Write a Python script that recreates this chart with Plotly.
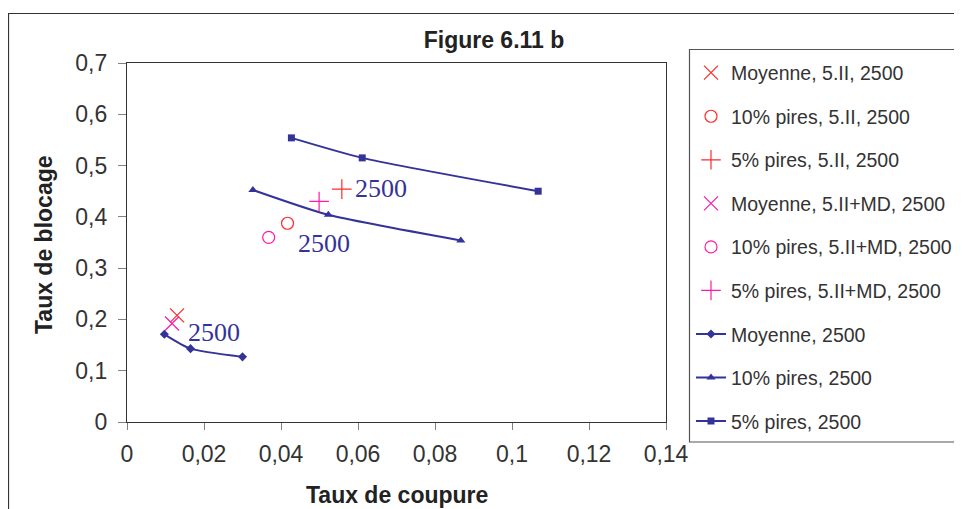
import plotly.graph_objects as go

# ---- data ----
moy_x = [0.0097, 0.0165, 0.0300]
moy_y = [0.171, 0.143, 0.127]
p10_x = [0.0327, 0.0523, 0.0867]
p10_y = [0.4525, 0.404, 0.354]
p5_x = [0.0427, 0.0611, 0.1068]
p5_y = [0.554, 0.515, 0.450]

moy_5II = (0.0130, 0.208)
p10_5II = (0.0417, 0.3875)
p5_5II = (0.0558, 0.454)
moy_5IIMD = (0.0117, 0.192)
p10_5IIMD = (0.0368, 0.360)
p5_5IIMD = (0.0499, 0.430)

label_text = "2500"
label_x = [0.0225, 0.0511, 0.0661]
label_y = [0.175, 0.348, 0.456]

x_ticks = [0, 0.02, 0.04, 0.06, 0.08, 0.1, 0.12, 0.14]
x_tick_text = ["0", "0,02", "0,04", "0,06", "0,08", "0,1", "0,12", "0,14"]
y_ticks = [0, 0.1, 0.2, 0.3, 0.4, 0.5, 0.6, 0.7]
y_tick_text = ["0", "0,1", "0,2", "0,3", "0,4", "0,5", "0,6", "0,7"]

RED = "#FF2A2A"
PINK = "#FF1AA8"
NAVY = "#333399"

# page body has an 8px margin: work in screen pixels and shift
OFF = 8
W, H = 962 - OFF, 509 - OFF
ML, MR, MT, MB = 127 - OFF, 296, 63 - OFF, 87
PW, PH = W - ML - MR, H - MT - MB


def to_paper_x(sx):
    return (sx - OFF - ML) / PW


def to_paper_y(sy):
    return (H - MB - (sy - OFF)) / PH


fig = go.Figure()


def pt(name, p, sym, color, size):
    fig.add_trace(go.Scatter(
        x=[p[0]], y=[p[1]], mode="markers", name=name, legendgroup=name,
        marker=dict(symbol=sym, size=size, color=color,
                    line=dict(color=color, width=1.2)),
    ))


pt("Moyenne, 5.II, 2500", moy_5II, "x-thin", RED, 14)
pt("10% pires, 5.II, 2500", p10_5II, "circle-open", RED, 12)
pt("5% pires, 5.II, 2500", p5_5II, "cross-thin", RED, 14)
pt("Moyenne, 5.II+MD, 2500", moy_5IIMD, "x-thin", PINK, 14)
pt("10% pires, 5.II+MD, 2500", p10_5IIMD, "circle-open", PINK, 12)
pt("5% pires, 5.II+MD, 2500", p5_5IIMD, "cross-thin", PINK, 14)


def ln(name, xs, ys, sym, size):
    fig.add_trace(go.Scatter(
        x=xs, y=ys, mode="lines+markers", name=name, legendgroup=name,
        line=dict(color=NAVY, width=2, shape="spline", smoothing=0.6),
        marker=dict(symbol=sym, size=size, color=NAVY),
    ))


ln("Moyenne, 2500", moy_x, moy_y, "diamond", 7)
ln("10% pires, 2500", p10_x, p10_y, "triangle-up", 8)
ln("5% pires, 2500", p5_x, p5_y, "square", 7)

for lx, ly in zip(label_x, label_y):
    fig.add_annotation(x=lx, y=ly, xref="x", yref="y", text=label_text,
                       showarrow=False, xanchor="center", yanchor="middle",
                       font=dict(family="Liberation Serif", size=26, color=NAVY))

fig.add_annotation(x=to_paper_x(396.5), y=to_paper_y(495), xref="paper", yref="paper",
                   text="<b>Taux de coupure</b>", showarrow=False,
                   xanchor="center", yanchor="middle",
                   font=dict(family="Liberation Sans", size=23, color="#222"))
fig.add_annotation(x=to_paper_x(44), y=to_paper_y(245), xref="paper", yref="paper",
                   text="<b>Taux de blocage</b>", showarrow=False, textangle=-90,
                   xanchor="center", yanchor="middle",
                   font=dict(family="Liberation Sans", size=23, color="#222"))

fig.add_shape(type="rect", xref="paper", yref="paper",
              x0=to_paper_x(8.5), x1=to_paper_x(975), y0=to_paper_y(530), y1=to_paper_y(13.5),
              line=dict(color="#333333", width=1.2), fillcolor="rgba(0,0,0,0)", layer="below")
fig.add_shape(type="rect", xref="paper", yref="paper",
              x0=to_paper_x(689.5), x1=to_paper_x(958.5), y0=to_paper_y(442), y1=to_paper_y(49.5),
              line=dict(color="#555555", width=1.2), fillcolor="rgba(0,0,0,0)", layer="below")

fig.update_layout(
    width=W, height=H,
    margin=dict(l=ML, r=MR, t=MT, b=MB, autoexpand=False),
    paper_bgcolor="white", plot_bgcolor="white",
    font=dict(family="Liberation Sans", color="#333333"),
    title=dict(text="<b>Figure 6.11 b</b>", x=(494 - OFF) / W, xref="container",
               xanchor="center", y=1 - (40 - OFF) / H, yref="container", yanchor="middle",
               font=dict(size=23, color="#222")),
    xaxis=dict(range=[0, 0.14], tickvals=x_ticks, ticktext=x_tick_text,
               showgrid=False, zeroline=False, showline=True, mirror=True,
               linecolor="#333333", linewidth=1.2,
               ticks="outside", ticklen=7, tickcolor="#808080",
               tickfont=dict(size=23, color="#333333"), ticklabelstandoff=4),
    yaxis=dict(range=[0, 0.7], tickvals=y_ticks, ticktext=y_tick_text,
               showgrid=False, zeroline=False, showline=True, mirror=True,
               linecolor="#333333", linewidth=1.2,
               ticks="outside", ticklen=8, tickcolor="#808080",
               tickfont=dict(size=23, color="#333333"), ticklabelstandoff=6),
    showlegend=True,
    legend=dict(x=to_paper_x(691), y=to_paper_y(53.5), xanchor="left", yanchor="top",
                bgcolor="rgba(0,0,0,0)", borderwidth=0, maxheight=460,
                font=dict(size=19.5, color="#333333"),
                tracegroupgap=15.2, traceorder="grouped"),
)

fig.write_html("out.html")
